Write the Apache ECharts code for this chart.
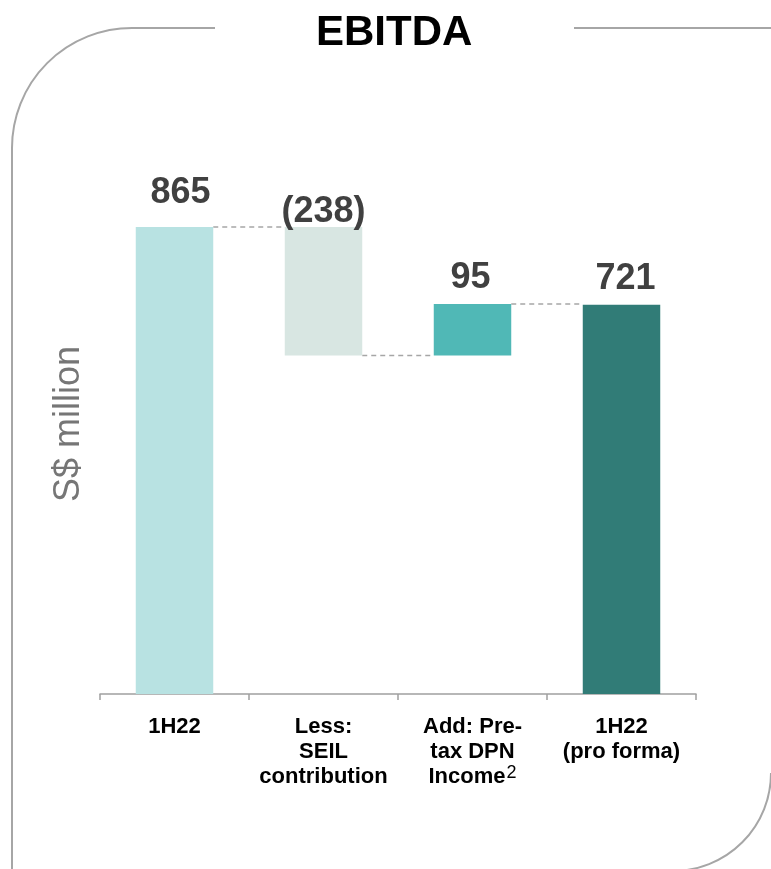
<!DOCTYPE html>
<html>
<head>
<meta charset="utf-8">
<script src="https://cdn.jsdelivr.net/npm/echarts@6/dist/echarts.min.js"></script>
<style>html,body{margin:0;padding:0;background:#fff}#c{width:771px;height:869px}</style>
</head>
<body>
<div id="c"></div>
<script>
var categories = ['1H22', 'Less:\nSEIL\ncontribution', 'Add: Pre-\ntax DPN\nIncome', '1H22\n(pro forma)'];
var changes = [865, -238, 95, 721];
var valueLabels = ['865', '(238)', '95', '721'];
var barColors = ['#b8e2e2', '#d8e6e2', '#50b8b6', '#317c77'];
var isTotal = [true, false, false, true];

// derive waterfall base / height from changes
var baseVals = [], barVals = [], levelAfter = [];
var running = 0;
for (var i = 0; i < changes.length; i++) {
  if (isTotal[i]) {
    baseVals.push(0); barVals.push(changes[i]); running = changes[i];
  } else {
    var next = running + changes[i];
    baseVals.push(Math.min(running, next));
    barVals.push(Math.abs(changes[i]));
    running = next;
  }
  levelAfter.push(running);
}
// connector levels between bar i and i+1
var connectors = [];
for (var j = 0; j < changes.length - 1; j++) connectors.push([j, levelAfter[j]]);

var labelDist = [16, -3, 8, 8];
var labelOffset = [[6, 0], [0, 0], [-2, 0], [4, 0]];
var frameStyle = { stroke: '#a6a6a6', lineWidth: 2, fill: null };
var FONT = '"Liberation Sans", Arial, sans-serif';

var chart = echarts.init(document.getElementById('c'));
chart.setOption({
  animation: false,
  backgroundColor: '#fff',
  graphic: [
    { type: 'line', shape: { x1: 132, y1: 28, x2: 215, y2: 28 }, style: frameStyle },
    { type: 'arc', shape: { cx: 132, cy: 148, r: 120, startAngle: Math.PI, endAngle: Math.PI * 1.5, clockwise: true }, style: frameStyle },
    { type: 'line', shape: { x1: 12, y1: 148, x2: 12, y2: 869 }, style: frameStyle },
    { type: 'line', shape: { x1: 574, y1: 28, x2: 771, y2: 28 }, style: frameStyle },
    { type: 'arc', shape: { cx: 673, cy: 773, r: 98, startAngle: 0, endAngle: Math.PI / 2, clockwise: true }, style: frameStyle },
    { type: 'text', left: 316, top: 12,
      style: { text: 'EBITDA', font: 'bold 42px ' + FONT, fill: '#000' } }
  ],
  grid: { left: 100, right: 75, top: 154, bottom: 175 },
  xAxis: {
    type: 'category',
    data: categories,
    axisLine: { lineStyle: { color: '#a0a0a0', width: 1.5 } },
    axisTick: { show: true, length: 6, lineStyle: { color: '#a0a0a0', width: 1.5 } },
    axisLabel: {
      interval: 0, margin: 20,
      color: '#000', fontFamily: FONT, fontWeight: 'bold', fontSize: 22, lineHeight: 25,
      formatter: function (v, idx) {
        if (idx === 2) {
          var parts = v.split('\n');
          return '{b|' + parts[0] + '}\n{b|' + parts[1] + '}\n{b|' + parts[2] + '}{sup|2}';
        }
        return v.split('\n').map(function (s) { return '{b|' + s + '}'; }).join('\n');
      },
      rich: {
        b: { fontWeight: 'bold', fontSize: 22, lineHeight: 25, color: '#000', fontFamily: FONT },
        sup: { fontWeight: 'normal', fontSize: 18, lineHeight: 25, color: '#000', verticalAlign: 'top', padding: [0, 0, 6, 1], fontFamily: FONT }
      }
    }
  },
  yAxis: {
    type: 'value', min: 0, max: 1000,
    axisLine: { show: false }, axisTick: { show: false }, axisLabel: { show: false }, splitLine: { show: false },
    name: 'S$ million', nameLocation: 'middle', nameGap: 13, nameRotate: 90,
    nameTextStyle: { color: '#767676', fontSize: 36, fontFamily: FONT }
  },
  series: [
    { type: 'bar', stack: 'w', barWidth: '52%', data: baseVals, itemStyle: { color: 'transparent' }, silent: true },
    { type: 'bar', stack: 'w', barWidth: '52%',
      data: barVals.map(function (v, k) {
        return { value: v, itemStyle: { color: barColors[k] },
          label: { distance: labelDist[k], offset: labelOffset[k] } };
      }),
      label: {
        show: true, position: 'top', color: '#404040', fontWeight: 'bold', fontSize: 36,
        fontFamily: FONT,
        formatter: function (p) { return valueLabels[p.dataIndex]; }
      }
    },
    { type: 'custom', data: connectors, silent: true, z: 1,
      renderItem: function (params, api) {
        var idx = api.value(0), lvl = api.value(1);
        var p1 = api.coord([idx, lvl]);
        var p2 = api.coord([idx + 1, lvl]);
        var half = api.size([1, 0])[0] * 0.52 / 2;
        return { type: 'line', shape: { x1: p1[0] + half, y1: p1[1], x2: p2[0] - half, y2: p2[1] },
          style: { stroke: '#a6a6a6', lineWidth: 1.5, lineDash: [5, 4] } };
      }
    }
  ]
});
</script>
</body>
</html>
